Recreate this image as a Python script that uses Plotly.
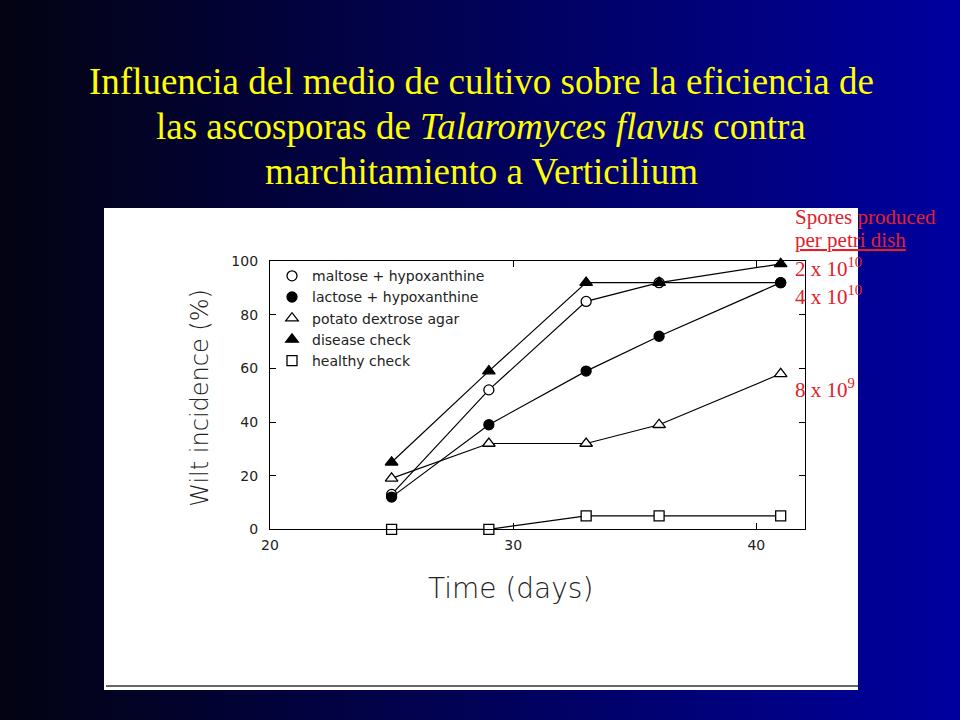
import plotly.graph_objects as go

# ---- data ----
days = [25, 29, 33, 36, 41]
maltose = [13, 52, 85, 92, 92]
lactose = [12, 39, 59, 72, 92]
potato = [19, 32, 32, 39, 58]
disease = [25, 59, 92, 92, 99]
healthy = [0, 0, 5, 5, 5]

series_names = ["maltose + hypoxanthine", "lactose + hypoxanthine",
                "potato dextrose agar", "disease check", "healthy check"]
x_ticks = [20, 30, 40]
y_ticks = [0, 20, 40, 60, 80, 100]

title_lines = [
    "Influencia del medio de cultivo sobre la eficiencia de",
    "las ascosporas de <i>Talaromyces flavus</i> contra",
    "marchitamiento a Verticilium",
]
spores_header = ["Spores produced", "<u>per petri dish</u>"]
spores_labels = ["2 x 10<sup>10</sup>", "4 x 10<sup>10</sup>", "8 x 10<sup>9</sup>"]

W, H = 960, 720

# page-pixel -> paper-fraction helpers (paper area as rendered)
PX0, PXW = 9.0, 951.0
PY0, PYH = 8.8, 701.2


def fx(X):
    return (X - PX0) / PXW


def fy(Y):
    return 1 - (Y - PY0) / PYH


fig = go.Figure()

styles = [
    dict(symbol="circle", color="white", size=10),
    dict(symbol="circle", color="black", size=10),
    dict(symbol="triangle-up", color="white", size=11),
    dict(symbol="triangle-up", color="black", size=11),
    dict(symbol="square", color="white", size=10),
]
all_vals = [maltose, lactose, potato, disease, healthy]

for name, vals in zip(series_names, all_vals):
    fig.add_trace(go.Scatter(
        x=days, y=vals, name=name, mode="lines", showlegend=False,
        line=dict(color="black", width=1.2), hoverinfo="skip", cliponaxis=False,
    ))
for name, vals, st in zip(series_names, all_vals, styles):
    fig.add_trace(go.Scatter(
        x=days, y=vals, name=name, mode="markers",
        marker=dict(symbol=st["symbol"], size=st["size"], color=st["color"],
                    line=dict(color="black", width=1.3)),
        cliponaxis=False,
    ))

# ---- background gradient (decorative) ----
shapes = []
n = 120
c0 = (3, 3, 18)
c1 = (0, 0, 158)
for i in range(n):
    t = i / (n - 1)
    col = tuple(round(a + (b - a) * t) for a, b in zip(c0, c1))
    x0 = fx(i * W / n) if i > 0 else -0.05
    x1 = fx((i + 1) * W / n) + 0.002 if i < n - 1 else 1.05
    shapes.append(dict(type="rect", xref="paper", yref="paper",
                       x0=x0, x1=x1, y0=-0.05, y1=1.05,
                       fillcolor="rgb(%d,%d,%d)" % col, line=dict(width=0), layer="below"))
shapes.append(dict(type="rect", xref="paper", yref="paper",
                   x0=fx(104), x1=fx(858), y0=fy(688), y1=fy(208),
                   fillcolor="white", line=dict(width=0), layer="below"))
shapes.append(dict(type="line", xref="paper", yref="paper",
                   x0=fx(106), x1=fx(858), y0=fy(684), y1=fy(684),
                   line=dict(color="#333333", width=1.5), layer="below"))

annotations = []
for txt, yc in zip(title_lines, [82, 127, 172]):
    annotations.append(dict(text=txt, xref="paper", yref="paper", x=fx(481), y=fy(yc),
                            xanchor="center", yanchor="middle", showarrow=False,
                            font=dict(family="Liberation Serif", size=37, color="#ffff00")))
red = "#e3202a"
for txt, yc in zip(spores_header, [217, 240]):
    annotations.append(dict(text=txt, xref="paper", yref="paper", x=fx(793), y=fy(yc),
                            xanchor="left", yanchor="middle", showarrow=False,
                            font=dict(family="Liberation Serif", size=21, color=red)))
for txt, yc in zip(spores_labels, [267, 295, 388]):
    annotations.append(dict(text=txt, xref="paper", yref="paper", x=fx(793), y=fy(yc),
                            xanchor="left", yanchor="middle", showarrow=False,
                            font=dict(family="Liberation Serif", size=21, color=red)))
annotations.append(dict(text="Time (days)", xref="paper", yref="paper", x=fx(510), y=fy(587),
                        xanchor="center", yanchor="middle", showarrow=False,
                        font=dict(family="DejaVu Sans", size=28, color="#222222", weight=200)))
annotations.append(dict(text="Wilt incidence (%)", xref="paper", yref="paper", x=fx(200),
                        y=fy(397), xanchor="center", yanchor="middle", showarrow=False,
                        textangle=-90,
                        font=dict(family="DejaVu Sans", size=24, color="#222222", weight=200)))

tickfont = dict(family="DejaVu Sans", size=14, color="#222222")
fig.update_layout(
    width=W, height=H,
    margin=dict(l=0, r=0, t=0, b=0),
    paper_bgcolor="#000010",
    plot_bgcolor="white",
    shapes=shapes,
    annotations=annotations,
    showlegend=True,
    legend=dict(x=fx(272), y=fy(260), xanchor="left", yanchor="top",
                bgcolor="rgba(0,0,0,0)",
                font=dict(family="DejaVu Sans", size=14, color="#222222"),
                tracegroupgap=0, itemwidth=30),
    xaxis=dict(domain=[fx(270), fx(805)], range=[20, 42], tickvals=x_ticks,
               showgrid=False, zeroline=False, showline=True, linecolor="black", linewidth=1.3,
               mirror="ticks", ticks="inside", ticklen=6, tickcolor="black",
               tickfont=tickfont, ticklabelstandoff=3),
    yaxis=dict(domain=[fy(528), fy(261)], range=[0, 100], tickvals=y_ticks,
               showgrid=False, zeroline=False, showline=True, linecolor="black", linewidth=1.3,
               mirror="ticks", ticks="inside", ticklen=6, tickcolor="black",
               tickfont=tickfont, ticklabelstandoff=8),
)

fig.write_html("out.html", config={"displayModeBar": False},
               post_script="document.body.style.margin='0';")
